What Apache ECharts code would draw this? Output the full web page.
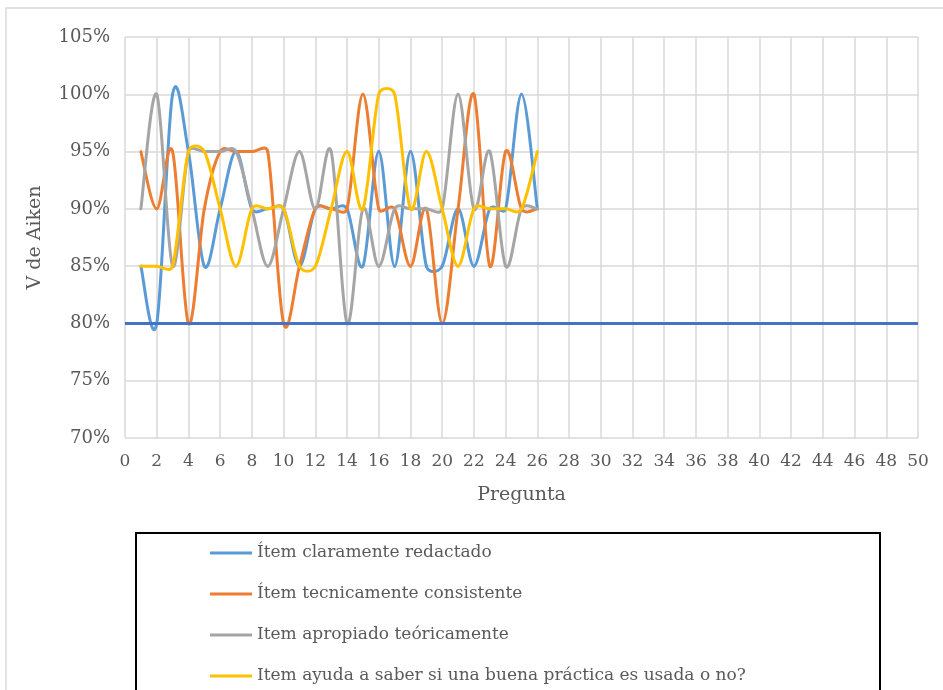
<!DOCTYPE html>
<html>
<head>
<meta charset="utf-8">
<script src="https://cdn.jsdelivr.net/npm/echarts@6/dist/echarts.min.js"></script>
<style>
  html, body { margin: 0; padding: 0; background: #ffffff; }
  #chart { width: 943px; height: 690px; }
</style>
</head>
<body>
<div id="chart"></div>
<script>
// Question numbers
const preguntas = [1, 2, 3, 4, 5, 6, 7, 8, 9, 10, 11, 12, 13, 14, 15, 16, 17, 18, 19, 20, 21, 22, 23, 24, 25, 26];

// Aiken's V per question (%), one array per criterion
const claramenteRedactado = [85, 80, 100, 95, 85, 90, 95, 90, 90, 90, 85, 90, 90, 90, 85, 95, 85, 95, 85, 85, 90, 85, 90, 90, 100, 90];
const tecnicamenteConsistente = [95, 90, 95, 80, 90, 95, 95, 95, 95, 80, 85, 90, 90, 90, 100, 90, 90, 85, 90, 80, 90, 100, 85, 95, 90, 90];
const apropiadoTeoricamente = [90, 100, 85, 95, 95, 95, 95, 90, 85, 90, 95, 90, 95, 80, 90, 85, 90, 90, 90, 90, 100, 90, 95, 85, 90, 90];
const ayudaBuenaPractica = [85, 85, 85, 95, 95, 90, 85, 90, 90, 90, 85, 85, 90, 95, 90, 100, 100, 90, 95, 90, 85, 90, 90, 90, 90, 95];

// Acceptance criterion line
const criterioX = [0, 50];
const criterio = 80;

const nombres = [
  'Ítem claramente redactado',
  'Ítem tecnicamente consistente',
  'Item apropiado teóricamente',
  'Item ayuda a saber si una buena práctica es usada o no?'
];
const colores = ['#5B9BD5', '#ED7D31', '#A5A5A5', '#FFC000'];
const valores = [claramenteRedactado, tecnicamenteConsistente, apropiadoTeoricamente, ayudaBuenaPractica];

const FONT = '"DejaVu Serif", "Liberation Serif", serif';
const TEXT = '#595959';
const GRID = '#D9D9D9';

const pares = (ys) => preguntas.map((x, i) => [x, ys[i]]);

const dist = (a, b) => Math.hypot(b[0] - a[0], b[1] - a[1]);

// Smoothed line through the points: cubic segments with Catmull-Rom
// tangents, shortened when a neighbour is far compared to the segment.
function curvaSuave(ys, color) {
  return function (params, api) {
    if (params.dataIndex !== 0) return null;
    const pts = preguntas.map((x, i) => api.coord([x, ys[i]]));
    const n = pts.length;
    const segs = [];
    for (let i = 0; i < n - 1; i++) {
      const p0 = pts[Math.max(i - 1, 0)];
      const p1 = pts[i];
      const p2 = pts[i + 1];
      const p3 = pts[Math.min(i + 2, n - 1)];
      const d12 = dist(p1, p2);
      const d02 = dist(p0, p2);
      const d13 = dist(p1, p3);
      const f1 = (d02 / 6 < d12 / 2) ? 1 / 6 : d12 / (2 * d02);
      const f2 = (d13 / 6 < d12 / 2) ? 1 / 6 : d12 / (2 * d13);
      segs.push({
        type: 'bezierCurve',
        shape: {
          x1: p1[0], y1: p1[1],
          cpx1: p1[0] + (p2[0] - p0[0]) * f1, cpy1: p1[1] + (p2[1] - p0[1]) * f1,
          cpx2: p2[0] - (p3[0] - p1[0]) * f2, cpy2: p2[1] - (p3[1] - p1[1]) * f2,
          x2: p2[0], y2: p2[1]
        },
        style: { fill: 'none', stroke: color, lineWidth: 3, lineCap: 'round', lineJoin: 'round' }
      });
    }
    return { type: 'group', children: segs };
  };
}

const series = valores.map((ys, k) => ({
  name: nombres[k],
  type: 'custom',
  data: pares(ys),
  encode: { x: 0, y: 1 },
  clip: false,
  renderItem: curvaSuave(ys, colores[k]),
  itemStyle: { color: colores[k] },
  z: 3 + k
}));

series.push({
  name: 'Criterio',
  type: 'line',
  data: criterioX.map(x => [x, criterio]),
  symbol: 'none',
  showSymbol: false,
  lineStyle: { color: '#4472C4', width: 3 },
  itemStyle: { color: '#4472C4' },
  z: 10
});

const chart = echarts.init(document.getElementById('chart'), null, { renderer: 'canvas' });

chart.setOption({
  backgroundColor: '#ffffff',
  animation: false,
  grid: { left: 125, right: 25, top: 37, bottom: 252, containLabel: false },
  xAxis: {
    type: 'value',
    min: 0,
    max: 50,
    interval: 2,
    name: 'Pregunta',
    nameLocation: 'middle',
    nameGap: 48,
    nameTextStyle: { fontFamily: FONT, fontSize: 19, color: TEXT },
    axisLine: { show: false },
    axisTick: { show: false },
    axisLabel: { fontFamily: FONT, fontSize: 17, color: TEXT, margin: 15 },
    splitLine: { show: true, lineStyle: { color: GRID, width: 1.5 } }
  },
  yAxis: {
    type: 'value',
    min: 70,
    max: 105,
    interval: 5,
    name: 'V de Aiken',
    nameLocation: 'middle',
    nameGap: 80,
    nameTextStyle: { fontFamily: FONT, fontSize: 19, color: TEXT },
    axisLine: { show: false },
    axisTick: { show: false },
    axisLabel: { fontFamily: FONT, fontSize: 18, color: TEXT, margin: 15, formatter: '{value}%' },
    splitLine: { show: true, lineStyle: { color: GRID, width: 1.5 } }
  },
  legend: {
    data: nombres,
    orient: 'vertical',
    left: 210,
    top: 543,
    icon: 'rect',
    itemWidth: 42,
    itemHeight: 3,
    itemGap: 21,
    padding: 0,
    selectedMode: false,
    textStyle: { fontFamily: FONT, fontSize: 17, color: TEXT, lineHeight: 20 }
  },
  graphic: [
    {
      type: 'rect',
      silent: true,
      shape: { x: 6, y: 8, width: 960, height: 700 },
      style: { fill: 'none', stroke: GRID, lineWidth: 1.5 },
      z: -1
    },
    {
      type: 'rect',
      silent: true,
      shape: { x: 136, y: 533, width: 744, height: 200 },
      style: { fill: 'none', stroke: '#000000', lineWidth: 2 }
    }
  ],
  series: series
});
</script>
</body>
</html>
